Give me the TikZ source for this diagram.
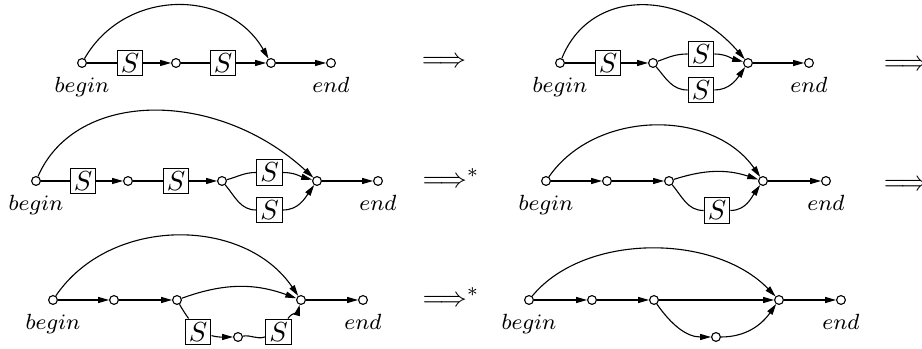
\documentclass[tikz,border=0pt]{standalone}
\usetikzlibrary{arrows.meta}
\begin{document}
\begin{tikzpicture}[x=0.3636pt,y=0.3636pt,
  pt/.style={circle,draw,fill=white,inner sep=0pt,minimum size=3.2pt},
  sbox/.style={draw,inner sep=0pt,minimum size=9.4pt},
  arr/.style={-{Triangle[length=4pt,width=2.2pt]}},
  lbl/.style={font=\footnotesize},
  every label/.style={font=\footnotesize}]
\useasboundingbox (0,0) rectangle (922,349);
\clip (0,0) rectangle (922,349);
% ---------- Diagram 1
\node[pt,label=below:$begin$] (b1) at (82,286) {};
\node[sbox] (S11) at (130,286) {$S$};
\node[pt] (n11) at (176,286) {};
\node[sbox] (S12) at (223,286) {$S$};
\node[pt] (j1) at (271,286) {};
\node[pt,label=below:$end$] (e1) at (331,286) {};
\draw (b1) -- (S11);
\draw[arr] (S11) -- (n11);
\draw (n11) -- (S12);
\draw[arr] (S12) -- (j1);
\draw[arr] (j1) -- (e1);
\draw[arr] (b1) .. controls +(43,75) and +(-43,75) .. (j1);
\node (r1) at (444,287) {$\Longrightarrow$};
% ---------- Diagram 2
\node[pt,label=below:$begin$] (b2) at (560,286) {};
\node[sbox] (S21) at (608,286) {$S$};
\node[pt] (n21) at (653,286) {};
\node[sbox] (S22) at (701,295) {$S$};
\node[sbox] (S23) at (701,259) {$S$};
\node[pt] (j2) at (748,286) {};
\node[pt,label=below:$end$] (e2) at (809,286) {};
\draw (b2) -- (S21);
\draw[arr] (S21) -- (n21);
\draw (n21) to[out=20,in=180] (S22);
\draw[arr] (S22) to[out=0,in=165] (j2);
\draw (n21) to[out=-50,in=180] (S23);
\draw[arr] (S23) to[out=0,in=-125] (j2);
\draw[arr] (j2) -- (e2);
\draw[arr] (b2) .. controls +(30,75) and +(-65,75) .. (j2);
\node (r2) at (906,284) {$\Longrightarrow$};
% ---------- Diagram 3
\node[pt,label=below:$begin$] (b3) at (36,168) {};
\node[sbox] (S31) at (83,168) {$S$};
\node[pt] (n31) at (128,168) {};
\node[sbox] (S32) at (176,168) {$S$};
\node[pt] (n32) at (222,168) {};
\node[sbox] (S33) at (269.5,176.5) {$S$};
\node[sbox] (S34) at (269.5,139) {$S$};
\node[pt] (j3) at (317,168) {};
\node[pt,label=below:$end$] (e3) at (378,168) {};
\draw (b3) -- (S31);
\draw[arr] (S31) -- (n31);
\draw (n31) -- (S32);
\draw[arr] (S32) -- (n32);
\draw (n32) to[out=15,in=180] (S33);
\draw[arr] (S33) to[out=0,in=165] (j3);
\draw (n32) to[out=-50,in=180] (S34);
\draw[arr] (S34) to[out=0,in=-125] (j3);
\draw[arr] (j3) -- (e3);
\draw[arr] (b3) .. controls +(40,92) and +(-100,92) .. (j3);
\node[anchor=west,inner xsep=0pt] (r3) at (422,171) {$\Longrightarrow^*$};
% ---------- Diagram 4
\node[pt,label=below:$begin$] (b4) at (546,168) {};
\node[pt] (n41) at (607,168) {};
\node[pt] (n42) at (669,168) {};
\node[sbox] (S41) at (717,138.5) {$S$};
\node[pt] (j4) at (763,168) {};
\node[pt,label=below:$end$] (e4) at (826,168) {};
\draw[arr] (b4) -- (n41);
\draw[arr] (n41) -- (n42);
\draw[arr] (n42) to[bend left=18] (j4);
\draw (n42) to[out=-50,in=180] (S41);
\draw[arr] (S41) to[out=0,in=-125] (j4);
\draw[arr] (j4) -- (e4);
\draw[arr] (b4) .. controls +(50,72) and +(-50,72) .. (j4);
\node (r4) at (906,164) {$\Longrightarrow$};
% ---------- Diagram 5
\node[pt,label=below:$begin$] (b5) at (53,49) {};
\node[pt] (n51) at (114,49) {};
\node[pt] (n52) at (177,49) {};
\node[sbox] (S51) at (198,17) {$S$};
\node[pt] (n53) at (238,12) {};
\node[sbox] (S52) at (278.5,17) {$S$};
\node[pt] (j5) at (301,49) {};
\node[pt,label=below:$end$] (e5) at (363,49) {};
\draw[arr] (b5) -- (n51);
\draw[arr] (n51) -- (n52);
\draw[arr] (n52) to[bend left=20] (j5);
\draw (n52) to[out=-60,in=125] (S51);
\draw[arr] (S51) to[out=-15,in=180] (n53);
\draw (n53) to[out=10,in=200] (S52);
\draw[arr] (S52) to[out=55,in=-105] (j5);
\draw[arr] (j5) -- (e5);
\draw[arr] (b5) .. controls +(57,84) and +(-57,84) .. (j5);
\node[anchor=west,inner xsep=0pt] (r5) at (422,52) {$\Longrightarrow^*$};
% ---------- Diagram 6
\node[pt,label=below:$begin$] (b6) at (529,49) {};
\node[pt] (n61) at (592,49) {};
\node[pt] (n62) at (654,49) {};
\node[pt] (n63) at (716,12) {};
\node[pt] (j6) at (779,49) {};
\node[pt,label=below:$end$] (e6) at (841,49) {};
\draw[arr] (b6) -- (n61);
\draw[arr] (n61) -- (n62);
\draw[arr] (n62) -- (j6);
\draw[arr] (n62) to[out=-55,in=180] (n63);
\draw[arr] (n63) to[out=0,in=-125] (j6);
\draw[arr] (j6) -- (e6);
\draw[arr] (b6) .. controls +(55,67) and +(-65,67) .. (j6);
\end{tikzpicture}
\end{document}
